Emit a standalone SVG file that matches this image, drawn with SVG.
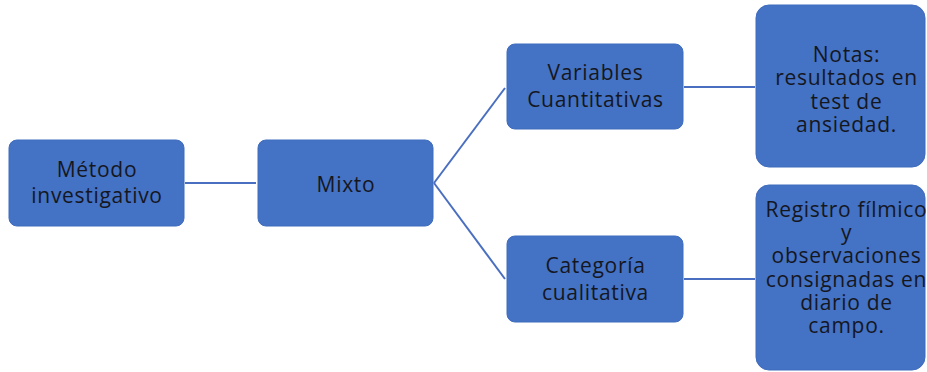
<svg xmlns="http://www.w3.org/2000/svg" width="927" height="372" viewBox="0 0 927 372">
<style>
.box{fill:#4472c4;stroke:#3f6cbd;stroke-width:1}
.t{font-family:"Open Sans","Liberation Sans",sans-serif;font-size:21px;letter-spacing:0.7px;fill:#15171f;text-anchor:middle}
.c{stroke:#4a6fc0;stroke-width:2;fill:none}
</style>
<rect width="927" height="372" fill="#ffffff"/>
<g id="connectors">
<line class="c" x1="185" y1="183" x2="256" y2="183"/>
<line class="c" x1="434" y1="183" x2="505" y2="88"/>
<line class="c" x1="434" y1="183" x2="505" y2="279"/>
<line class="c" x1="684" y1="87" x2="755" y2="87"/>
<line class="c" x1="684" y1="279" x2="755" y2="279"/>
</g>
<g id="metodo">
<rect class="box" x="9" y="140" width="175" height="86" rx="8"/>
<text class="t" x="97" y="177">Método</text>
<text class="t" x="97" y="203">investigativo</text>
</g>
<g id="mixto">
<rect class="box" x="258" y="140" width="175" height="86" rx="8"/>
<text class="t" x="346" y="192">Mixto</text>
</g>
<g id="variables">
<rect class="box" x="507" y="44" width="176" height="85" rx="8"/>
<text class="t" x="595.5" y="80">Variables</text>
<text class="t" x="595.5" y="107">Cuantitativas</text>
</g>
<g id="categoria">
<rect class="box" x="507" y="236" width="176" height="86" rx="8"/>
<text class="t" x="595.5" y="273">Categoría</text>
<text class="t" x="595.5" y="300">cualitativa</text>
</g>
<g id="notas">
<rect class="box" x="756" y="5" width="169" height="162" rx="13"/>
<text class="t" x="846.5" y="62">Notas:</text>
<text class="t" x="846.5" y="85">resultados en</text>
<text class="t" x="846.5" y="108.5">test de</text>
<text class="t" x="846.5" y="132">ansiedad.</text>
</g>
<g id="registro">
<rect class="box" x="756" y="185" width="169" height="185" rx="13"/>
<text class="t" x="846.5" y="217">Registro fílmico</text>
<text class="t" x="846.5" y="240">y</text>
<text class="t" x="846.5" y="263">observaciones</text>
<text class="t" x="846.5" y="287">consignadas en</text>
<text class="t" x="846.5" y="310">diario de</text>
<text class="t" x="846.5" y="333">campo.</text>
</g>
</svg>
